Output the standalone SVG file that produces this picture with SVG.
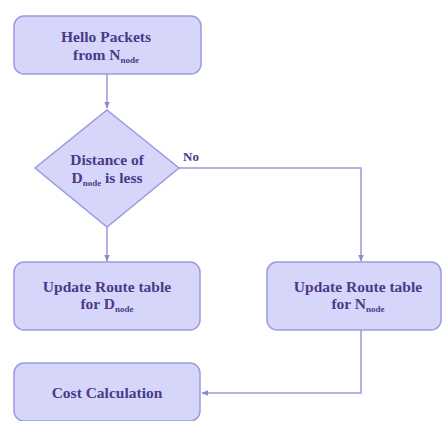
<svg xmlns="http://www.w3.org/2000/svg" width="443" height="421" viewBox="0 0 443 421">
  <defs>
    <marker id="arrow" viewBox="0 0 10 10" refX="9" refY="5" markerWidth="7" markerHeight="7" orient="auto-start-reverse" markerUnits="userSpaceOnUse">
      <path d="M0,1 L10,5 L0,9 z" fill="#8c8cd6"/>
    </marker>
    <style>
      .shape { fill: #d6d6fb; stroke: #9a9ae0; stroke-width: 1.5; }
      .label { font-family: "Liberation Serif", "DejaVu Serif", serif; font-weight: bold; font-size: 15.5px; fill: #4a3a88; text-anchor: middle; }
      .sub { font-size: 9px; }
      .link { fill: none; stroke: #9a9ad8; stroke-width: 1.5; }
    </style>
  </defs>
  <rect width="443" height="421" fill="#ffffff"/>

  <!-- connectors -->
  <g id="connectors">
    <line class="link" x1="107" y1="74" x2="107" y2="108" marker-end="url(#arrow)"/>
    <line class="link" x1="107" y1="227" x2="107" y2="261" marker-end="url(#arrow)"/>
    <polyline class="link" points="179,168 361,168 361,261" marker-end="url(#arrow)"/>
    <polyline class="link" points="361,330 361,393 202,393" marker-end="url(#arrow)"/>
    <text class="label" x="191" y="161" style="font-size:13px">No</text>
  </g>

  <!-- start node -->
  <g id="hello-packets">
    <rect class="shape" x="14" y="16" width="187" height="58" rx="10"/>
    <text class="label" x="106" y="42">Hello Packets</text>
    <text class="label" x="106" y="60">from N<tspan class="sub" dy="3">node</tspan></text>
  </g>

  <!-- decision -->
  <g id="distance-check">
    <polygon class="shape" points="107,110 179,168 107,227 35,168"/>
    <text class="label" x="107" y="165">Distance of</text>
    <text class="label" x="107" y="183">D<tspan class="sub" dy="3">node</tspan><tspan dy="-3"> is less</tspan></text>
  </g>

  <g id="update-d">
    <rect class="shape" x="14" y="262" width="186" height="68" rx="10"/>
    <text class="label" x="107" y="292">Update Route table</text>
    <text class="label" x="107" y="309">for D<tspan class="sub" dy="3">node</tspan></text>
  </g>

  <g id="update-n">
    <rect class="shape" x="267" y="262" width="174" height="68" rx="10"/>
    <text class="label" x="358" y="292">Update Route table</text>
    <text class="label" x="358" y="309">for N<tspan class="sub" dy="3">node</tspan></text>
  </g>

  <g id="cost-calculation">
    <rect class="shape" x="14" y="363" width="186" height="58" rx="10"/>
    <text class="label" x="107" y="398">Cost Calculation</text>
  </g>
</svg>
